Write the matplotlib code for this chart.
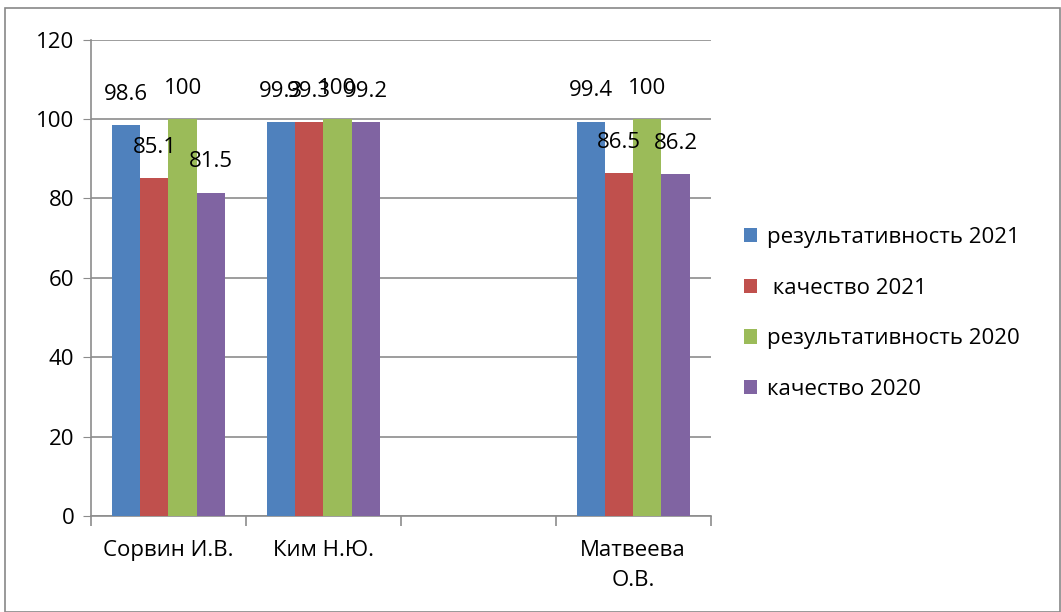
import matplotlib
matplotlib.use("Agg")
import matplotlib.pyplot as plt
import numpy as np
from matplotlib.patches import Rectangle

categories = ["Сорвин И.В.", "Ким Н.Ю.", "", "Матвеева\nО.В."]
series_names = ["результативность 2021", " качество 2021", "результативность 2020", "качество 2020"]
res2021 = [98.6, 99.3, np.nan, 99.4]
kach2021 = [85.1, 99.3, np.nan, 86.5]
res2020 = [100, 100, np.nan, 100]
kach2020 = [81.5, 99.2, np.nan, 86.2]
colors = ["#4F81BD", "#C0504D", "#9BBB59", "#8064A2"]
yticks = [0, 20, 40, 60, 80, 100, 120]

plt.rcParams['font.family'] = ['Open Sans', 'DejaVu Sans']
fig = plt.figure(figsize=(10.61, 6.12), dpi=100)
fig.patches.append(Rectangle((0.005, 0.0), 0.994, 0.987, transform=fig.transFigure,
                             fill=False, edgecolor="#888888", linewidth=1.2))
ax = fig.add_axes([0.0858, 0.157, 0.584, 0.778])

data = [res2021, kach2021, res2020, kach2020]
n = len(categories)
x = np.arange(n)
bw = 1 / 5.5
for i, (vals, c, name) in enumerate(zip(data, colors, series_names)):
    pos = x + (i - 1.5) * bw
    ax.bar(pos, vals, width=bw, color=c, label=name, zorder=3)
    for p, v in zip(pos, vals):
        if not np.isnan(v):
            ax.annotate(f"{v:g}", (p, v), xytext=(0, 22), textcoords="offset points",
                        ha="center", va="center", fontsize=16, zorder=4)

ax.set_xlim(-0.5, n - 0.5)
ax.set_ylim(0, 120)
ax.set_yticks(yticks)
ax.set_yticklabels([str(t) for t in yticks], fontsize=16)
ax.yaxis.grid(True, color="#8c8c8c", linewidth=1.2, zorder=0)
ax.set_axisbelow(True)
ax.tick_params(axis="y", length=6, color="#8c8c8c", pad=6)

ax.set_xticks(np.arange(n + 1) - 0.5)
ax.set_xticklabels([])
ax.set_xticks(x, minor=True)
ax.set_xticklabels(categories, minor=True, fontsize=16, linespacing=1.6)
ax.tick_params(axis="x", which="major", length=7, color="#8c8c8c", width=1.2)
ax.tick_params(axis="x", which="minor", length=0, pad=17)

for s in ["top", "right"]:
    ax.spines[s].set_visible(False)
for s in ["left", "bottom"]:
    ax.spines[s].set_color("#8c8c8c")
    ax.spines[s].set_linewidth(1.2)

ax.legend(loc="center left", bbox_to_anchor=(1.032, 0.425), frameon=False,
          fontsize=16, handlelength=0.6, handleheight=0.6, handletextpad=0.45,
          labelspacing=1.33, borderaxespad=0.2)

fig.savefig("out.png", dpi=100)
